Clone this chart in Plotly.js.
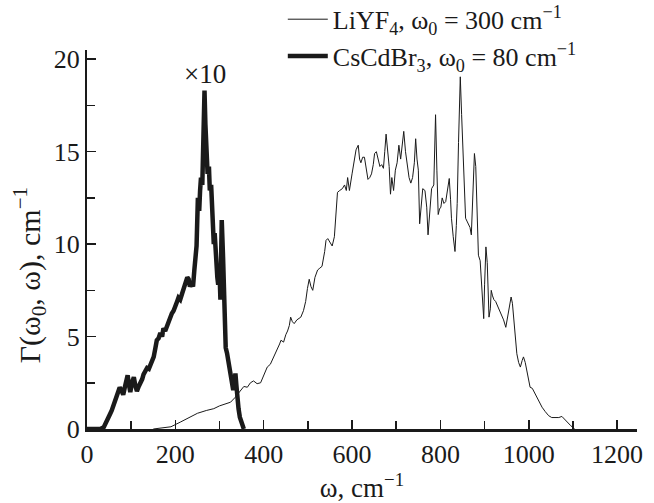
<!DOCTYPE html>
<html>
<head>
<meta charset="utf-8">
<script src="https://cdn.plot.ly/plotly-3.0.1.min.js"></script>
<style>html,body{margin:0;padding:0;background:#fff;}#chart{width:654px;height:503px;}</style>
</head>
<body>
<div id="chart"></div>
<script>
// CsCdBr3 (scaled x10), omega0 = 80 cm^-1
const csOmega = [0,30,38,45,52,56,60,64,67,71,74,78,82,86,90,92,95,98,102,106,109,113,117,121,125,128,132,136,140,144,148,151,155,158,162,166,170,173,177,181,185,188,192,196,200,204,207,211,215,219,223,227,230,233,237,240,243,245,248,251,254,256,258,261,263,266,268,270,273,276,278,281,283,285,287,289,292,295,297,300,302,305,308,311,314,317,319,322,325,328,331,334,336,338,340,343,346,350,355];
const csGamma = [0,0,0.1,0.4,0.8,1.0,1.3,1.6,1.9,2.0,2.25,2.1,1.85,2.3,2.6,2.9,2.4,2.0,2.5,2.8,2.4,2.05,2.3,2.45,2.7,2.95,3.1,3.3,3.25,3.45,3.7,3.9,4.4,4.8,4.9,5.2,5.0,5.45,5.3,5.6,5.9,6.1,6.25,6.4,6.6,6.9,7.1,7.0,7.3,7.6,7.9,8.2,8.1,7.7,7.9,7.7,8.6,9.2,9.9,12.5,11.8,12.9,13.6,13.2,15.5,18.3,16.5,15.3,13.8,14.2,12.9,13.2,12.2,11.0,10.0,10.6,9.0,8.2,7.8,8.5,7.0,11.3,9.3,6.5,4.4,4.1,3.8,3.5,3.2,2.6,2.1,2.6,3.0,2.4,1.75,1.1,0.64,0.3,0];

// LiYF4, omega0 = 300 cm^-1
const liOmega = [150,170,190,211,230,250,270,287,300,315,325,335,342,348,355,363,370,377,385,393,400,408,415,423,430,436,439,445,450,454,458,461,465,469,475,484,490,495,499,503,507,511,516,522,527,532,538,541,545,550,555,560,564,567,572,578,583,587,590,594,600,605,609,614,617,620,624,628,632,636,640,644,648,651,655,659,663,667,671,674,677,680,684,687,690,694,698,702,706,710,714,717,721,725,729,733,737,741,744,747,750,753,757,760,765,769,772,776,780,785,789,792,795,798,801,804,808,812,816,820,823,825,829,833,836,838,841,845,848,852,855,857,861,864,867,870,873,877,880,882,884,886,890,894,898,900,903,906,908,910,913,915,918,921,925,930,935,939,943,948,952,956,960,963,965,969,973,977,981,985,988,992,996,1000,1003,1008,1014,1020,1025,1030,1037,1045,1052,1060,1068,1075,1080,1086,1095,1104];
const liGamma = [0,0.05,0.12,0.37,0.6,0.85,1.0,1.1,1.25,1.35,1.45,1.7,1.9,2.1,2.3,2.26,2.5,2.6,2.45,2.5,2.9,3.35,3.5,3.9,4.3,4.6,4.8,4.7,5.1,5.3,5.6,6.05,5.8,5.7,5.9,6.05,6.4,6.9,7.6,8.1,7.7,7.5,8.2,8.6,8.7,8.8,9.6,10.2,10.3,10.1,9.9,10.4,12.0,12.8,12.9,13.0,13.2,12.9,13.6,12.9,13.8,14.5,15.1,15.35,14.6,14.4,14.7,14.7,14.0,13.5,13.6,13.8,14.3,14.9,15.0,14.6,14.2,14.3,14.1,15.0,15.95,15.2,14.2,12.7,13.6,12.9,14.0,14.4,15.35,14.6,15.4,16.1,15.0,14.2,13.6,13.3,13.6,14.4,15.7,14.6,14.0,11.1,12.5,13.0,12.9,12.0,10.5,12.0,13.0,13.2,17.0,14.0,11.6,11.9,12.0,12.5,12.2,12.3,12.9,13.55,12.4,11.4,10.4,9.6,11.0,12.2,15.5,19.05,17.0,14.9,12.6,11.4,11.2,11.0,10.9,10.5,12.5,14.9,14.2,12.7,10.8,9.4,9.1,7.4,5.97,7.8,9.85,9.0,7.5,6.05,6.5,7.5,7.2,7.0,6.9,6.6,6.4,6.15,5.9,5.5,6.1,6.6,7.14,6.8,6.2,5.0,4.07,3.6,3.35,3.7,3.9,3.6,3.1,2.6,2.26,2.2,1.9,1.6,1.35,1.18,0.95,0.72,0.62,0.6,0.62,0.68,0.55,0.37,0.18,0];

const xTickVals = [0,200,400,600,800,1000,1200];
const yTickVals = [0,5,10,15,20];
const liName = 'LiYF<sub>4</sub>, ω<sub>0</sub> = 300 cm<sup>−1</sup>';
const csName = 'CsCdBr<sub>3</sub>, ω<sub>0</sub> = 80 cm<sup>−1</sup>';
const scaleLabel = '×10';
const xTitle = 'ω, cm<sup>−1</sup>';
const yTitle = 'Γ(ω<sub>0</sub>, ω), cm<sup>−1</sup>';

const FONT = '"Liberation Serif", "Times New Roman", serif';

const traces = [
  {x: liOmega, y: liGamma, type: 'scatter', mode: 'lines', name: liName,
   line: {color: '#1a1a1a', width: 1}},
  {x: csOmega, y: csGamma, type: 'scatter', mode: 'lines', name: csName,
   line: {color: '#1a1a1a', width: 4.5}}
];

const layout = {
  width: 654, height: 503,
  margin: {l: 87, r: 17, t: 50, b: 74, autoexpand: false},
  paper_bgcolor: '#fff', plot_bgcolor: '#fff',
  font: {family: FONT, color: '#1a1a1a', size: 26},
  showlegend: true,
  legend: {x: 0.356, y: 1.143, xanchor: 'left', yanchor: 'top', itemwidth: 40,
           bgcolor: 'rgba(0,0,0,0)', font: {family: FONT, size: 26, color: '#1a1a1a'},
           tracegroupgap: 0},
  xaxis: {range: [0, 1245], tickvals: xTickVals, ticks: 'inside', ticklen: 9, tickwidth: 1.5,
          tickcolor: '#1a1a1a', showline: true, linewidth: 3, linecolor: '#1a1a1a',
          showgrid: false, zeroline: false, tickfont: {family: FONT, size: 26},
          minor: {dtick: 100, tick0: 0, ticks: 'inside', ticklen: 8, tickwidth: 1.5, tickcolor: '#1a1a1a'},
          title: {text: xTitle, font: {family: FONT, size: 27}, standoff: 3}},
  yaxis: {range: [0, 20.5], tickvals: yTickVals, ticks: 'inside', ticklen: 9, tickwidth: 1.5,
          tickcolor: '#1a1a1a', showline: true, linewidth: 2, linecolor: '#1a1a1a',
          showgrid: false, zeroline: false, tickfont: {family: FONT, size: 26},
          minor: {dtick: 2.5, tick0: 0, ticks: 'inside', ticklen: 8, tickwidth: 1.5, tickcolor: '#1a1a1a'}},
  annotations: [
    {x: 266, y: 19.2, xref: 'x', yref: 'y', text: scaleLabel, showarrow: false,
     font: {family: FONT, size: 27, color: '#1a1a1a'}},
    {x: -0.104, y: 0.405, xref: 'paper', yref: 'paper', xanchor: 'center', yanchor: 'middle',
     text: yTitle, textangle: -90,
     showarrow: false, font: {family: FONT, size: 30, color: '#1a1a1a'}}
  ]
};

Plotly.newPlot('chart', traces, layout, {displayModeBar: false, staticPlot: true});
</script>
</body>
</html>
